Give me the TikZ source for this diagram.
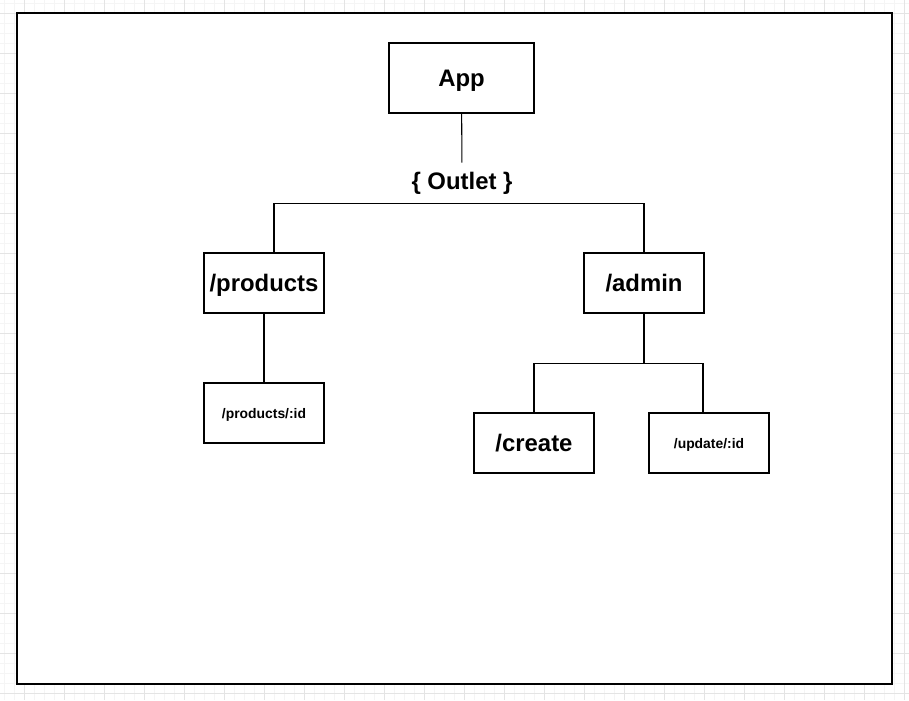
\documentclass[tikz,border=0pt]{standalone}
\usepackage{fontspec}
\setmainfont{Liberation Sans}
\usetikzlibrary{positioning}
\definecolor{gridminor}{RGB}{245,245,245}
\definecolor{gridmajor}{RGB}{228,228,228}

\begin{document}
\begin{tikzpicture}[x=0.02cm, y=-0.02cm,
    route/.style={draw, line width=0.6pt, inner sep=1pt, minimum width=2.4cm, minimum height=1.2cm, align=center, text height=9.8pt, text depth=0pt, font=\bfseries\fontsize{13.6}{16}\selectfont},
    subroute/.style={route, text height=5.7pt, font=\bfseries\fontsize{7.9}{9.5}\selectfont},
    link/.style={line width=0.6pt}
]
    \useasboundingbox (0,0) rectangle (909,700);

    % Background grid
    \foreach \x in {4.5,14.5,...,904.5} \draw[gridminor] (\x,0) -- (\x,700);
    \foreach \y in {3,13,...,693} \draw[gridminor] (0,\y) -- (909,\y);
    \foreach \x in {24.5,64.5,...,904.5} \draw[gridmajor] (\x,0) -- (\x,700);
    \foreach \y in {13,53,...,693} \draw[gridmajor] (0,\y) -- (909,\y);

    % Frame
    \draw[fill=white, line width=0.6pt] (17,13) rectangle (892,684);

    % Root
    \node[route, minimum width=2.9cm, minimum height=1.4cm] (app) at (461.5,78) {App};
    \node[font=\bfseries\fontsize{13.6}{16}\selectfont, inner sep=5pt] (outlet) at (462,183) {\{ Outlet \}};

    % Routes
    \node[route] (products) at (264,283) {/products};
    \node[route] (admin) at (644,283) {/admin};

    % Child routes
    \node[subroute] (productid) at (264,413) {/products/:id};
    \node[route] (create) at (534,443) {/create};
    \node[subroute] (updateid) at (709,443) {/update/:id};

    % Links
    \draw[link] (app) -- (outlet);
    \draw[link] ([xshift=0.2cm]products.north) |- (outlet.south) -| (admin.north);
    \draw[link] (products) -- (productid);
    \coordinate[below=1cm of admin] (adminsplit);
    \draw[link] (admin) -- (adminsplit);
    \draw[link] (adminsplit) -| (create.north);
    \draw[link] (adminsplit) -| ([xshift=-0.12cm]updateid.north);
\end{tikzpicture}
\end{document}
